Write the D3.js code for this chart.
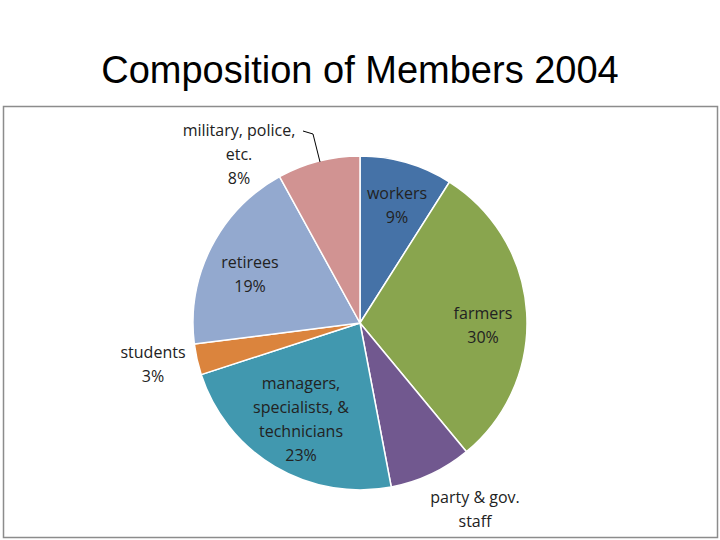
<!DOCTYPE html>
<html><head><meta charset="utf-8">
<script src="https://cdn.jsdelivr.net/npm/d3@7"></script>
<style>body{margin:0;background:#fff}</style></head>
<body><svg id="c" width="720" height="540"></svg>
<script>
const categories=["workers","farmers","party & gov. staff","managers, specialists, & technicians","students","retirees","military, police, etc."];
const values=[9,30,8,23,3,19,8];
const colors=["#4572A7","#89A54E","#71588F","#4198AF","#DB843D","#93A9CF","#D19392"];
const labelLines=[["workers","9%"],["farmers","30%"],["party & gov.","staff"],["managers,","specialists, &","technicians","23%"],["students","3%"],["retirees","19%"],["military, police,","etc.","8%"]];
const labelPos=[[397,199],[483,319],[475,503],[301,389],[153,358],[250,268],[239,136]];
const svg=d3.select("#c");
svg.append("text").attr("x",360).attr("y",83).attr("text-anchor","middle")
 .attr("font-family","Liberation Sans, Arial").attr("font-size",38).text("Composition of Members 2004");
svg.append("rect").attr("x",3.5).attr("y",106.5).attr("width",714).attr("height",431)
 .attr("fill","none").attr("stroke","#8c8c8c").attr("stroke-width",1.5);
const cx=360,cy=323,r=167;
const pie=d3.pie().sort(null).value(d=>d)(values);
const arc=d3.arc().innerRadius(0).outerRadius(r);
const g=svg.append("g").attr("transform",`translate(${cx},${cy})`);
g.selectAll("path").data(pie).join("path").attr("d",arc).attr("fill",(d,i)=>colors[i])
 .attr("stroke","#fff").attr("stroke-width",1.5);
svg.append("path").attr("d","M303,131 L313,134 L320,162").attr("fill","none").attr("stroke","#000").attr("stroke-width",1);
labelLines.forEach((ls,i)=>{
 const t=svg.append("text").attr("font-family","Open Sans, Carlito, sans-serif").attr("font-size",16)
  .attr("text-anchor","middle").attr("fill","#222");
 ls.forEach((l,j)=>t.append("tspan").attr("x",labelPos[i][0]).attr("y",labelPos[i][1]+j*24).text(l));
});
</script></body></html>
